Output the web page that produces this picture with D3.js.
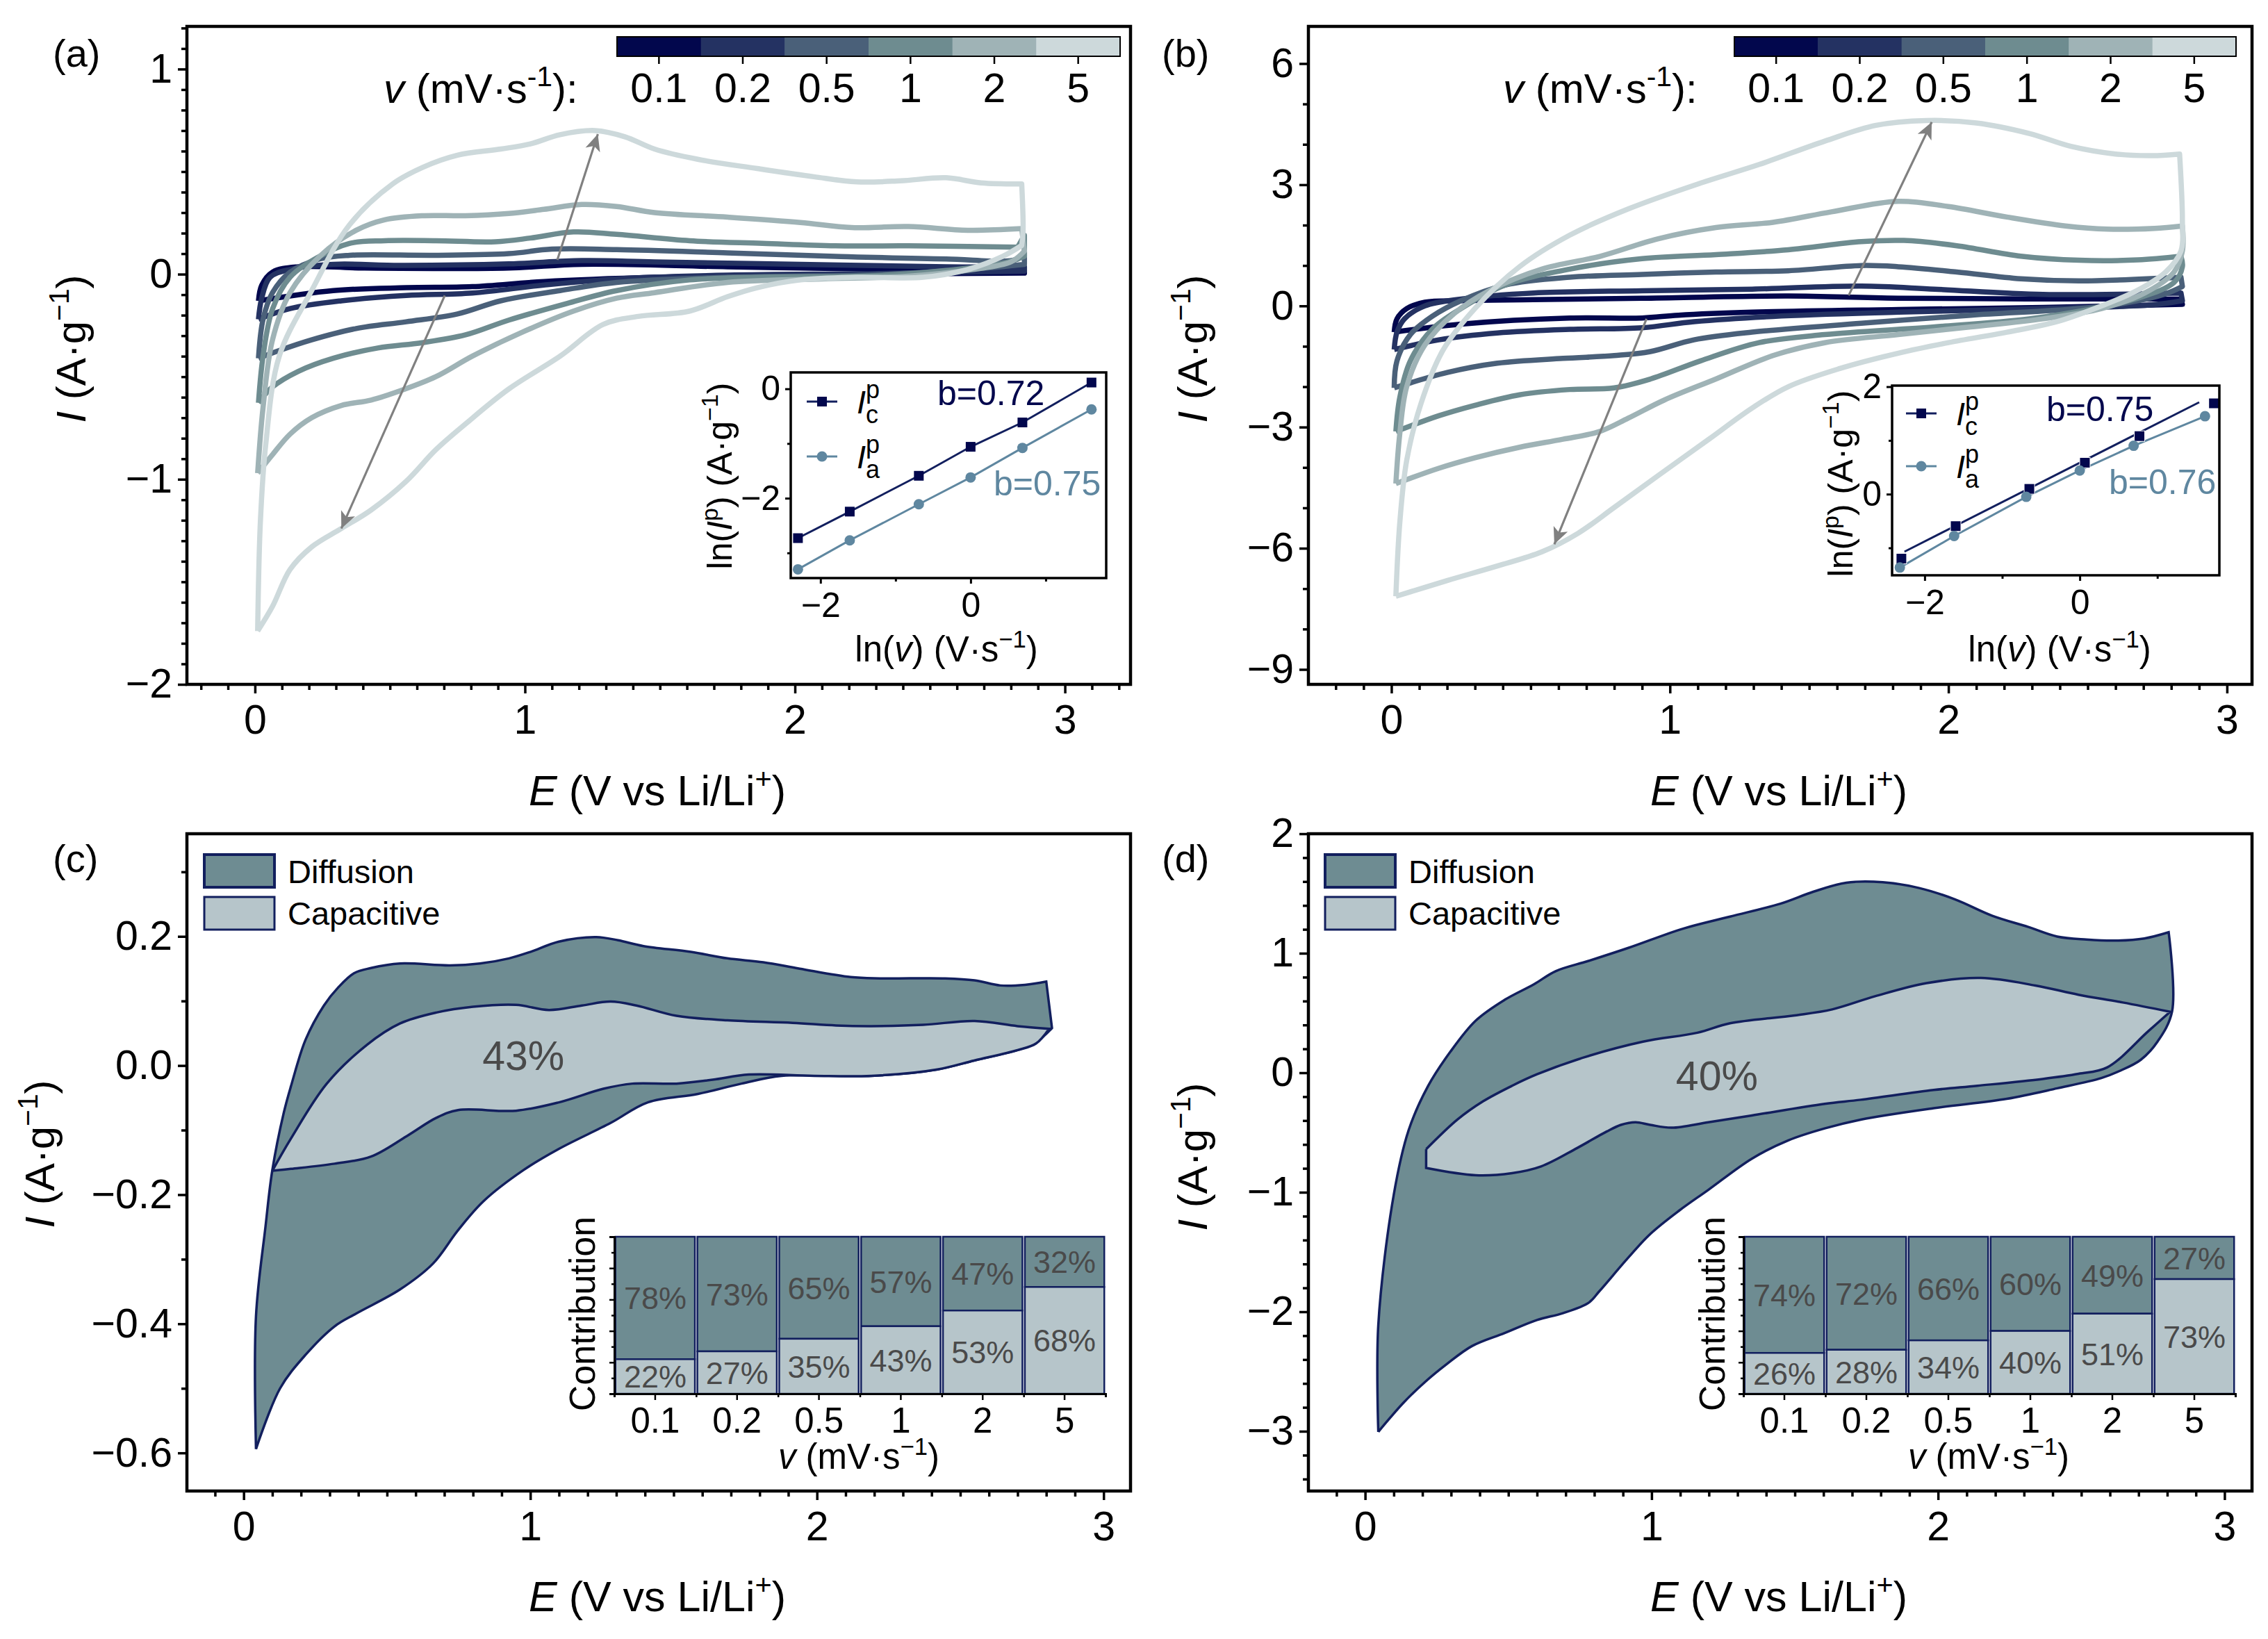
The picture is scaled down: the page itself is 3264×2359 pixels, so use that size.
<!DOCTYPE html>
<html>
<head>
<meta charset="utf-8">
<script src="https://cdn.jsdelivr.net/npm/d3@7"></script>
<style>
body { margin: 0; background: #fff; }
text { font-family: "Liberation Sans", Arial, sans-serif; fill: #000; }
</style>
</head>
<body>
<svg id="fig" width="3264" height="2359"></svg>
<script>
// scan rates shared by every panel
const scanRates = ["0.1", "0.2", "0.5", "1", "2", "5"];
const rateColors = ["#02074d", "#243262", "#4a6079", "#6e8c90", "#9fb3b6", "#cdd9db"];

// panel (a) CV loops, [E, I]
const cvA01 = [[.013,-.13],[.025,-.054],[.065,.01],[.16,.036],[.40,.03],[.94,.03],[1.21,.048],[1.75,.036],[2.29,.025],[2.85,.02],[2.85,.005],[2.02,-.003],[1.48,-.015],[1.07,-.036],[.805,-.061],[.56,-.066],[.29,-.08],[.013,-.13]];
const cvA02 = [[.013,-.22],[.025,-.117],[.056,-.015],[.13,.023],[.29,.048],[.536,.043],[.94,.05],[1.21,.066],[1.48,.06],[2.02,.048],[2.56,.036],[2.85,.036],[2.85,.015],[2.29,.003],[1.75,-.005],[1.34,-.023],[1.07,-.053],[.805,-.092],[.56,-.104],[.32,-.13],[.13,-.168],[.013,-.22]];
const cvA05 = [[.013,-.41],[.03,-.22],[.065,-.09],[.13,.01],[.24,.074],[.35,.092],[.67,.092],[.94,.10],[1.10,.122],[1.34,.12],[1.75,.104],[2.15,.087],[2.56,.074],[2.825,.074],[2.85,.112],[2.85,.048],[2.69,.028],[2.29,-.003],[1.75,-.015],[1.34,-.04],[1.13,-.08],[.91,-.13],[.75,-.194],[.56,-.232],[.375,-.265],[.21,-.32],[.09,-.372],[.013,-.41]];
const cvA1 = [[.013,-.627],[.03,-.40],[.065,-.17],[.13,-.015],[.24,.087],[.35,.15],[.48,.163],[.67,.163],[.89,.158],[1.02,.176],[1.18,.206],[1.34,.194],[1.61,.163],[1.88,.15],[2.15,.138],[2.42,.138],[2.825,.132],[2.85,.19],[2.85,.087],[2.77,.053],[2.56,.018],[2.29,-.008],[1.88,-.015],[1.61,-.028],[1.34,-.08],[1.155,-.143],[.94,-.224],[.78,-.296],[.62,-.334],[.455,-.36],[.29,-.41],[.16,-.474],[.065,-.55],[.013,-.627]];
const cvA2 = [[.01,-.97],[.03,-.65],[.065,-.32],[.13,-.09],[.24,.087],[.375,.214],[.48,.265],[.62,.285],[.78,.285],[.94,.296],[1.07,.316],[1.21,.34],[1.34,.33],[1.48,.30],[1.75,.278],[2.02,.252],[2.21,.227],[2.42,.232],[2.64,.214],[2.84,.222],[2.85,.112],[2.80,.06],[2.66,.023],[2.42,-.01],[2.10,-.023],[1.75,-.04],[1.48,-.09],[1.34,-.117],[1.18,-.18],[.99,-.283],[.805,-.40],[.67,-.50],[.55,-.563],[.43,-.614],[.32,-.64],[.21,-.70],[.13,-.78],[.065,-.88],[.01,-.97]];
const cvA5 = [[.01,-1.74],[.02,-1.21],[.04,-.83],[.09,-.40],[.21,-.08],[.35,.24],[.51,.44],[.62,.52],[.75,.58],[.91,.61],[1.02,.635],[1.13,.68],[1.26,.70],[1.37,.67],[1.48,.61],[1.64,.56],[1.86,.515],[2.07,.475],[2.23,.45],[2.39,.455],[2.56,.47],[2.69,.445],[2.84,.44],[2.845,.21],[2.84,.14],[2.77,.087],[2.64,.023],[2.475,-.015],[2.23,-.015],[2.02,-.028],[1.86,-.066],[1.75,-.11],[1.61,-.18],[1.42,-.206],[1.29,-.245],[1.13,-.40],[.94,-.56],[.78,-.73],[.67,-.856],[.56,-1.01],[.43,-1.15],[.32,-1.24],[.21,-1.33],[.13,-1.44],[.065,-1.62],[.01,-1.74]];

// panel (b) CV loops, [E, I]
const cvB01 = [[.01,-.65],[.02,-.32],[.055,-.065],[.12,.09],[.25,.13],[.51,.155],[.90,.19],[1.425,.245],[1.82,.19],[2.835,.17],[2.84,.04],[2.34,-.04],[1.82,-.09],[1.295,-.155],[1.03,-.23],[.90,-.30],[.64,-.30],[.25,-.45],[.01,-.65]];
const cvB02 = [[.01,-1.08],[.02,-.65],[.047,-.32],[.12,0],[.25,.17],[.51,.32],[.90,.375],[1.295,.415],[1.687,.49],[1.95,.415],[2.34,.285],[2.835,.32],[2.84,.13],[2.73,.026],[2.34,-.065],[1.82,-.155],[1.37,-.26],[1.086,-.39],[.90,-.54],[.64,-.58],[.38,-.67],[.17,-.84],[.01,-1.08]];
const cvB05 = [[.01,-2.03],[.02,-1.36],[.068,-.71],[.146,-.26],[.25,.13],[.41,.52],[.64,.71],[.90,.78],[1.165,.84],[1.425,.87],[1.687,1.0],[1.82,.97],[2.03,.84],[2.26,.67],[2.47,.62],[2.835,.71],[2.84,.48],[2.78,.30],[2.65,.09],[2.47,-.065],[2.08,-.23],[1.687,-.43],[1.295,-.65],[1.086,-.84],[.93,-1.13],[.80,-1.23],[.616,-1.30],[.38,-1.42],[.20,-1.65],[.01,-2.03]];
const cvB1 = [[.016,-3.11],[.03,-2.27],[.068,-1.36],[.146,-.58],[.25,-.065],[.41,.52],[.64,.91],[.90,1.17],[1.165,1.27],[1.425,1.39],[1.687,1.59],[1.84,1.62],[2.03,1.49],[2.26,1.23],[2.47,1.13],[2.68,1.14],[2.835,1.23],[2.84,.97],[2.81,.58],[2.68,.19],[2.52,-.065],[2.29,-.32],[1.95,-.52],[1.556,-.71],[1.32,-.91],[1.11,-1.36],[.93,-1.81],[.80,-2.03],[.64,-2.07],[.46,-2.2],[.30,-2.46],[.17,-2.72],[.016,-3.11]];
const cvB2 = [[.016,-4.40],[.03,-3.17],[.055,-2.0],[.12,-.97],[.225,-.19],[.355,.39],[.54,.91],[.75,1.23],[.956,1.66],[1.165,1.94],[1.37,2.07],[1.58,2.33],[1.82,2.59],[2.0,2.46],[2.21,2.2],[2.42,1.98],[2.57,1.9],[2.74,1.92],[2.84,1.98],[2.84,1.36],[2.81,.84],[2.705,.32],[2.55,-.065],[2.34,-.32],[2.08,-.52],[1.82,-.71],[1.556,-.91],[1.37,-1.23],[1.165,-1.81],[.98,-2.33],[.85,-2.78],[.747,-3.11],[.616,-3.3],[.46,-3.5],[.30,-3.76],[.17,-4.02],[.016,-4.40]];
const cvB5 = [[.016,-7.19],[.03,-5.38],[.055,-3.82],[.107,-2.4],[.185,-1.1],[.30,-.065],[.46,.97],[.64,1.75],[.85,2.4],[1.11,3.04],[1.32,3.5],[1.556,4.08],[1.74,4.47],[1.92,4.59],[2.10,4.53],[2.29,4.27],[2.44,3.95],[2.60,3.76],[2.73,3.72],[2.83,3.76],[2.84,2.14],[2.835,1.36],[2.78,.84],[2.68,.39],[2.55,0],[2.39,-.39],[2.21,-.65],[2.0,-.91],[1.82,-1.17],[1.61,-1.55],[1.425,-2.0],[1.295,-2.53],[1.14,-3.3],[.956,-4.21],[.80,-4.99],[.67,-5.63],[.54,-6.09],[.38,-6.44],[.20,-6.8],[.016,-7.19]];

// arrows on the CV panels, [tail, head]
const arrowsA = [[[1.12,.07],[1.27,.683]], [[.703,-.104],[.32,-1.24]]];
const arrowsB = [[[1.642,.26],[1.94,4.55]], [[.916,-.32],[.585,-5.9]]];

// b-value insets
const lnRateA = [-2.30,-1.61,-.69,0,.69,1.61];
const lnIcA = [-2.73,-2.245,-1.59,-1.06,-.615,.115];
const lnIaA = [-3.30,-2.77,-2.11,-1.62,-1.08,-.376];
const lnRateCB = [-2.30,-1.60,-.65,.066,.77,1.73];
const lnRateAB = [-2.32,-1.62,-.69,0,.695,1.615];
const lnIcB = [-1.2,-.595,.098,.585,1.08,1.69];
const lnIaB = [-1.366,-.78,-.05,.44,.90,1.45];
const fitIcB = [[-2.26,-1.07],[1.54,1.71]];

// panel (c), 1 mV/s separation
const totalC = [[.043,-.594],[.043,-.388],[.076,-.25],[.10,-.162],[.14,-.073],[.165,-.032],[.216,.04],[.28,.093],[.33,.121],[.385,.143],[.444,.151],[.545,.158],[.72,.155],[.824,.158],[.926,.166],[1.0,.176],[1.10,.192],[1.23,.199],[1.306,.194],[1.395,.185],[1.56,.176],[1.687,.166],[1.813,.16],[1.94,.15],[2.118,.137],[2.22,.135],[2.447,.135],[2.55,.132],[2.64,.124],[2.726,.125],[2.80,.13],[2.82,.058],[2.764,.036],[2.70,.024],[2.55,.008],[2.42,-.006],[2.19,-.016],[1.877,-.016],[1.737,-.028],[1.585,-.044],[1.41,-.057],[1.28,-.089],[1.10,-.129],[.976,-.162],[.837,-.21],[.748,-.255],[.66,-.307],[.545,-.347],[.393,-.384],[.317,-.404],[.216,-.448],[.127,-.50],[.043,-.594]];
const capC = [[.10,-.163],[.165,-.113],[.29,-.028],[.43,.032],[.545,.065],[.672,.082],[.80,.091],[.95,.094],[1.065,.086],[1.18,.093],[1.28,.099],[1.37,.093],[1.51,.077],[1.687,.07],[1.915,.066],[2.067,.062],[2.19,.061],[2.37,.063],[2.55,.069],[2.70,.061],[2.81,.057],[2.764,.034],[2.70,.024],[2.55,.008],[2.42,-.006],[2.19,-.016],[1.99,-.016],[1.763,-.014],[1.636,-.022],[1.51,-.028],[1.357,-.028],[1.255,-.036],[1.10,-.057],[.95,-.07],[.748,-.069],[.672,-.081],[.57,-.109],[.444,-.141],[.317,-.152],[.165,-.16],[.10,-.163]];
const diffShareC = [78,73,65,57,47,32];
const capShareC = [22,27,35,43,53,68];

// panel (d), 1 mV/s separation
const totalD = [[.046,-3.005],[.046,-2.11],[.10,-1.02],[.152,-.48],[.22,-.11],[.297,.174],[.386,.436],[.487,.61],[.589,.74],[.665,.85],[.78,.936],[.919,1.045],[1.11,1.206],[1.274,1.307],[1.45,1.415],[1.566,1.516],[1.68,1.59],[1.807,1.594],[1.934,1.546],[2.06,1.45],[2.188,1.315],[2.315,1.22],[2.416,1.14],[2.518,1.115],[2.62,1.106],[2.72,1.124],[2.805,1.176],[2.817,.514],[2.766,.26],[2.708,.109],[2.632,.013],[2.57,-.044],[2.416,-.13],[2.24,-.218],[1.985,-.296],[1.73,-.392],[1.604,-.466],[1.477,-.566],[1.35,-.719],[1.198,-.98],[1.096,-1.154],[.995,-1.35],[.919,-1.546],[.817,-1.83],[.78,-1.925],[.69,-2.012],[.60,-2.069],[.487,-2.178],[.373,-2.287],[.284,-2.44],[.208,-2.59],[.132,-2.766],[.046,-3.005]];
const capD = [[.213,-.64],[.322,-.392],[.411,-.24],[.513,-.109],[.60,-.013],[.766,.13],[.97,.26],[1.16,.335],[1.274,.414],[1.50,.48],[1.63,.53],[1.78,.64],[1.96,.75],[2.15,.793],[2.34,.73],[2.49,.653],[2.645,.588],[2.81,.51],[2.734,.348],[2.59,.044],[2.49,-.009],[2.365,-.052],[2.137,-.109],[1.985,-.144],[1.73,-.226],[1.604,-.26],[1.35,-.357],[1.198,-.414],[1.07,-.46],[.995,-.436],[.944,-.414],[.893,-.436],[.843,-.492],[.74,-.63],[.614,-.784],[.513,-.84],[.386,-.858],[.213,-.797],[.213,-.64]];
const diffShareD = [74,72,66,60,49,27];
const capShareD = [26,28,34,40,51,73];

const navy = "#121f5e", anodic = "#5f87a0", gray = "#808080", darkText = "#4a4a4a";
const diffFill = "#6e8c92", capFill = "#b6c5ca";

const svg = d3.select("#fig");

svg.append("defs").append("marker")
    .attr("id", "head")
    .attr("markerUnits", "userSpaceOnUse")
    .attr("markerWidth", 30).attr("markerHeight", 30)
    .attr("refX", 26).attr("refY", 15)
    .attr("orient", "auto")
    .append("path")
    .attr("d", "M26,15 L2,4 L8,15 L2,26 Z")
    .attr("fill", gray);

const line = d3.line()
    .x(d => d[0]).y(d => d[1])
    .curve(d3.curveCatmullRom.alpha(0.5));

// smooth path that keeps the sharp turns at the ends of a sweep
function smoothPath(pts) {
    const pieces = [];
    let cur = [pts[0]];
    for (let i = 1; i < pts.length; i++) {
        cur.push(pts[i]);
        if (i < pts.length - 1) {
            const a = Math.atan2(pts[i][1] - pts[i - 1][1], pts[i][0] - pts[i - 1][0]);
            const b = Math.atan2(pts[i + 1][1] - pts[i][1], pts[i + 1][0] - pts[i][0]);
            let turn = Math.abs(a - b);
            if (turn > Math.PI) turn = 2 * Math.PI - turn;
            if (turn > 0.9) { pieces.push(cur); cur = [pts[i]]; }
        }
    }
    pieces.push(cur);
    return pieces.map((p, k) => k ? line(p).replace("M", "L") : line(p)).join("");
}

// mixed italic / superscript text. parts are [string, kind]
function rich(sel, parts, size) {
    let prev = 0;
    parts.forEach(([s, kind]) => {
        const off = kind === "sup" ? -0.4 * size : 0;
        sel.append("tspan")
            .attr("dy", off - prev)
            .attr("font-size", kind === "sup" ? size * 0.68 : size)
            .attr("font-style", kind === "i" ? "italic" : "normal")
            .text(s);
        prev = off;
    });
    return sel;
}

function minors(lo, hi, step, major) {
    return d3.range(Math.round(lo / step), Math.round(hi / step) + 1)
        .map(k => +(k * step).toFixed(6))
        .filter(v => v >= lo && v <= hi && !major.includes(v));
}

// minor ticks carry no label, so drop their empty text nodes
const noText = a => a.selectAll("text").remove();

function axes(g, x, y, box, o) {
    const xAxis = g.append("g").attr("transform", `translate(0,${box.bottom})`);
    xAxis.append("g").call(d3.axisBottom(x).tickValues(o.xMajor).tickSize(o.major).tickPadding(o.padX).tickFormat(o.xFormat || d3.format("d")));
    xAxis.append("g").call(d3.axisBottom(x).tickValues(o.xMinor).tickSize(o.minor).tickFormat("")).call(noText);
    const yAxis = g.append("g").attr("transform", `translate(${box.left},0)`);
    yAxis.append("g").call(d3.axisLeft(y).tickValues(o.yMajor).tickSize(o.major).tickPadding(o.padY).tickFormat(o.yFormat || d3.format("d")));
    yAxis.append("g").call(d3.axisLeft(y).tickValues(o.yMinor).tickSize(o.minor).tickFormat("")).call(noText);
    g.selectAll(".domain").remove();
    g.selectAll(".tick line").attr("stroke", "#000").attr("stroke-width", o.tickWidth);
    g.selectAll(".tick text").attr("font-size", o.font).attr("font-family", "Liberation Sans").attr("fill", "#000");
    g.append("rect")
        .attr("x", box.left).attr("y", box.top)
        .attr("width", box.right - box.left).attr("height", box.bottom - box.top)
        .attr("fill", "none").attr("stroke", "#000").attr("stroke-width", o.frame);
}

function mainPanel(p) {
    const g = svg.append("g");
    const x = d3.scaleLinear().domain(p.xDomain).range([p.box.left, p.box.right]);
    const y = d3.scaleLinear().domain(p.yDomain).range([p.box.bottom, p.box.top]);
    g.append("text").attr("x", p.labelX).attr("y", p.labelY).attr("font-size", 56).text(p.label);
    const plot = g.append("g");
    axes(g, x, y, p.box, {
        xMajor: [0, 1, 2, 3], xMinor: minors(p.xDomain[0], p.xDomain[1], 0.1, [0, 1, 2, 3]),
        yMajor: p.yMajor, yMinor: p.yMinor, yFormat: p.yFormat,
        major: 13, minor: 8, padX: 16, padY: 8, tickWidth: 3.5, font: 59, frame: 4.5
    });
    g.append("text").attr("x", p.xTitleX).attr("y", p.xTitleY)
        .attr("text-anchor", "middle")
        .call(rich, [["E", "i"], [" (V vs Li/Li", "n"], ["+", "sup"], [")", "n"]], 61);
    g.append("text")
        .attr("transform", `translate(${p.yTitleX},${p.yTitleY}) rotate(-90)`)
        .attr("text-anchor", "middle")
        .call(rich, [["I", "i"], ["  (A·g", "n"], ["−1", "sup"], [")", "n"]], 60);
    return { g, plot, x, y };
}

function colorBar(g, left, right, titleX) {
    const band = d3.scaleBand().domain(scanRates).range([left, right]);
    g.append("g").selectAll("rect").data(scanRates).join("rect")
        .attr("x", d => band(d)).attr("y", 53)
        .attr("width", band.bandwidth() + 0.5).attr("height", 28)
        .attr("fill", (d, i) => rateColors[i]);
    g.append("rect").attr("x", left).attr("y", 53).attr("width", right - left).attr("height", 28)
        .attr("fill", "none").attr("stroke", "#000").attr("stroke-width", 2);
    const a = g.append("g").attr("transform", "translate(0,81)")
        .call(d3.axisBottom(band).tickSize(11).tickPadding(13));
    a.select(".domain").remove();
    a.selectAll(".tick line").attr("stroke", "#000").attr("stroke-width", 2.5);
    a.selectAll(".tick text").attr("font-size", 59).attr("font-family", "Liberation Sans").attr("fill", "#000");
    g.append("text").attr("x", titleX).attr("y", 148)
        .call(rich, [["v", "i"], [" (mV·s", "n"], ["-1", "sup"], ["):", "n"]], 60);
}

function cvPanel(p, loops, arrows, bar) {
    const { g, plot, x, y } = mainPanel(p);
    plot.selectAll("path").data(loops).join("path")
        .attr("d", d => smoothPath(d.map(([e, i]) => [x(e), y(i)])))
        .attr("fill", "none")
        .attr("stroke", (d, i) => rateColors[i])
        .attr("stroke-width", 7.5)
        .attr("stroke-linejoin", "round");
    plot.append("g").selectAll("line").data(arrows).join("line")
        .attr("x1", d => x(d[0][0])).attr("y1", d => y(d[0][1]))
        .attr("x2", d => x(d[1][0])).attr("y2", d => y(d[1][1]))
        .attr("stroke", gray).attr("stroke-width", 3.2)
        .attr("marker-end", "url(#head)");
    colorBar(g, bar.left, bar.right, bar.titleX);
}

function sepPanel(p, total, cap, bar, note) {
    const { g, plot, x, y } = mainPanel(p);
    const toPath = pts => smoothPath(pts.map(([e, i]) => [x(e), y(i)]));
    plot.append("path").attr("d", toPath(total)).attr("fill", diffFill).attr("stroke", navy).attr("stroke-width", 3.5);
    plot.append("path").attr("d", toPath(cap)).attr("fill", capFill).attr("stroke", navy).attr("stroke-width", 3.5);
    g.append("text").attr("x", x(note.x)).attr("y", y(note.y)).attr("dy", "0.36em")
        .attr("text-anchor", "middle").attr("font-size", 59).style("fill", darkText).text(note.text);
    // legend
    [["Diffusion", diffFill], ["Capacitive", capFill]].forEach(([name, fill], i) => {
        g.append("rect").attr("x", p.legendX).attr("y", 1230 + i * 61)
            .attr("width", 101).attr("height", 47)
            .attr("fill", fill).attr("stroke", navy).attr("stroke-width", i ? 3 : 4);
        g.append("text").attr("x", p.legendX + 120).attr("y", 1271 + i * 60)
            .attr("font-size", 47).text(name);
    });
    shareInset(g, bar);
}

function shareInset(g, b) {
    const xb = d3.scaleBand().domain(scanRates).range([b.left, b.right]).paddingInner(0.03).paddingOuter(0.015);
    const y = d3.scaleLinear().domain([0, 100]).range([b.bottom, b.top]);
    const rows = scanRates.map((r, i) => ({ r, cap: b.cap[i], diff: b.diff[i] }));
    const bars = g.append("g").selectAll("g").data(rows).join("g");
    bars.append("rect")
        .attr("x", d => xb(d.r)).attr("width", xb.bandwidth())
        .attr("y", d => y(100)).attr("height", d => y(d.cap) - y(100))
        .attr("fill", diffFill).attr("stroke", navy).attr("stroke-width", 2.5);
    bars.append("rect")
        .attr("x", d => xb(d.r)).attr("width", xb.bandwidth())
        .attr("y", d => y(d.cap)).attr("height", d => y(0) - y(d.cap))
        .attr("fill", capFill).attr("stroke", navy).attr("stroke-width", 2.5);
    const mid = d => xb(d.r) + xb.bandwidth() / 2;
    bars.append("text").attr("x", mid).attr("y", d => y(d.cap + d.diff / 2)).attr("dy", "0.36em")
        .attr("text-anchor", "middle").attr("font-size", 45).style("fill", darkText).text(d => d.diff + "%");
    bars.append("text").attr("x", mid).attr("y", d => y(d.cap / 2)).attr("dy", "0.36em")
        .attr("text-anchor", "middle").attr("font-size", 45).style("fill", darkText).text(d => d.cap + "%");

    const edge = d3.scaleLinear().domain([0, 6]).range([b.left, b.right]);
    const ax = g.append("g").attr("transform", `translate(0,${b.bottom})`);
    ax.append("g").call(d3.axisBottom(xb).tickSize(9).tickPadding(11).tickSizeOuter(0));
    ax.append("g").call(d3.axisBottom(edge).tickValues(d3.range(7)).tickSize(5).tickFormat("")).call(noText);
    const ay = g.append("g").attr("transform", `translate(${b.left},0)`);
    ay.append("g").call(d3.axisLeft(y).tickValues([0, 20, 40, 60, 80, 100]).tickSize(7).tickFormat("")).call(noText);
    ay.append("g").call(d3.axisLeft(y).tickValues([10, 30, 50, 70, 90]).tickSize(4).tickFormat("")).call(noText);
    ax.selectAll(".domain").attr("stroke", "#000").attr("stroke-width", 3);
    ay.selectAll(".domain").attr("stroke", "#000").attr("stroke-width", 3);
    ax.selectAll(".tick line").attr("stroke", "#000").attr("stroke-width", 2.5);
    ay.selectAll(".tick line").attr("stroke", "#000").attr("stroke-width", 2.5);
    ax.selectAll(".tick text").attr("font-size", 51).attr("font-family", "Liberation Sans").attr("fill", "#000");
    g.append("text").attr("x", b.titleX).attr("y", 2114).attr("text-anchor", "middle")
        .call(rich, [["v", "i"], [" (mV·s", "n"], ["−1", "sup"], [")", "n"]], 51);
    g.append("text").attr("transform", `translate(${b.ylabelX},1891) rotate(-90)`)
        .attr("text-anchor", "middle").attr("font-size", 52).text("Contribution");
}

function bInset(p) {
    const g = svg.append("g");
    const x = d3.scaleLinear().domain(p.xDomain).range([p.box.left, p.box.right]);
    const y = d3.scaleLinear().domain(p.yDomain).range([p.box.bottom, p.box.top]);
    const lineXY = d3.line().x(d => x(d[0])).y(d => y(d[1]));
    const ptsC = p.rateC.map((r, i) => [r, p.ic[i]]);
    const ptsA = p.rateA.map((r, i) => [r, p.ia[i]]);
    g.append("path").attr("d", lineXY(p.fitC || ptsC)).attr("fill", "none").attr("stroke", navy).attr("stroke-width", 3);
    g.append("path").attr("d", lineXY(ptsA)).attr("fill", "none").attr("stroke", anodic).attr("stroke-width", 3);
    g.append("g").selectAll("rect").data(ptsC).join("rect")
        .attr("x", d => x(d[0]) - 7).attr("y", d => y(d[1]) - 7)
        .attr("width", 14).attr("height", 14).attr("fill", "#02074d")
        .attr("stroke", p.fitC ? "#fff" : "none").attr("stroke-width", 2).attr("paint-order", "stroke");
    g.append("g").selectAll("circle").data(ptsA).join("circle")
        .attr("cx", d => x(d[0])).attr("cy", d => y(d[1])).attr("r", 7.5).attr("fill", anodic);
    axes(g, x, y, p.box, {
        xMajor: [-2, 0], xMinor: [-1, 1], yMajor: p.yMajor, yMinor: p.yMinor,
        major: 8, minor: 5, padX: 12, padY: 7, tickWidth: 3, font: 50, frame: 3.5
    });

    // legend for the two peak series
    const lx = p.legendX;
    [["c", p.legendY[0], navy], ["a", p.legendY[1], anodic]].forEach(([sub, ly, col], i) => {
        g.append("line").attr("x1", lx - 22).attr("x2", lx + 22).attr("y1", ly).attr("y2", ly)
            .attr("stroke", col).attr("stroke-width", 3);
        if (i === 0) {
            g.append("rect").attr("x", lx - 7).attr("y", ly - 7).attr("width", 14).attr("height", 14).attr("fill", "#02074d");
        } else {
            g.append("circle").attr("cx", lx).attr("cy", ly).attr("r", 7.5).attr("fill", anodic);
        }
        g.append("text").attr("x", lx + 50).attr("y", ly + 17).attr("font-size", 47).attr("font-style", "italic").text("I");
        g.append("text").attr("x", lx + 63).attr("y", ly - 5).attr("font-size", 36).text("p");
        g.append("text").attr("x", lx + 63).attr("y", ly + 31).attr("font-size", 36).text(sub);
    });
    g.append("text").attr("x", p.bC[0]).attr("y", p.bC[1]).attr("font-size", 50).style("fill", "#02074d").text(p.bC[2]);
    g.append("text").attr("x", p.bA[0]).attr("y", p.bA[1]).attr("font-size", 50).style("fill", anodic).text(p.bA[2]);
    g.append("text").attr("x", p.xTitleX).attr("y", 952).attr("text-anchor", "middle")
        .call(rich, [["ln(", "n"], ["v", "i"], [") (V·s", "n"], ["−1", "sup"], [")", "n"]], 51);
    g.append("text").attr("transform", `translate(${p.yTitleX},${p.yTitleY}) rotate(-90)`)
        .attr("text-anchor", "middle")
        .call(rich, [["ln(", "n"], ["I", "i"], ["p", "sup"], [")  (A·g", "n"], ["−1", "sup"], [")", "n"]], 50);
}

const boxA = { left: 269, right: 1627, top: 38, bottom: 985 };
const boxB = { left: 1883, right: 3241, top: 38, bottom: 985 };
const boxC = { left: 269, right: 1627, top: 1200, bottom: 2146 };
const boxD = { left: 1883, right: 3241, top: 1200, bottom: 2146 };

cvPanel({
    label: "(a)", labelX: 76, labelY: 96, box: boxA,
    xDomain: [-0.252, 3.243], yDomain: [-2, 1.208],
    yMajor: [-2, -1, 0, 1], yMinor: minors(-2, 1.2, 0.1, [-2, -1, 0, 1]),
    xTitleX: 946, xTitleY: 1159, yTitleX: 123, yTitleY: 502
}, [cvA01, cvA02, cvA05, cvA1, cvA2, cvA5], arrowsA, { left: 888, right: 1612, titleX: 552 });

cvPanel({
    label: "(b)", labelX: 1672, labelY: 96, box: boxB,
    xDomain: [-0.298, 3.09], yDomain: [-9.37, 6.92],
    yMajor: [-9, -6, -3, 0, 3, 6], yMinor: [-8, -7, -5, -4, -2, -1, 1, 2, 4, 5],
    xTitleX: 2560, xTitleY: 1159, yTitleX: 1737, yTitleY: 502
}, [cvB01, cvB02, cvB05, cvB1, cvB2, cvB5], arrowsB, { left: 2496, right: 3218, titleX: 2163 });

bInset({
    box: { left: 1138, right: 1592, top: 536, bottom: 832 },
    xDomain: [-2.396, 1.806], yDomain: [-3.46, 0.30],
    yMajor: [-2, 0], yMinor: [-3, -1],
    rateC: lnRateA, rateA: lnRateA, ic: lnIcA, ia: lnIaA,
    legendX: 1183, legendY: [578, 657],
    bC: [1349, 583, "b=0.72"], bA: [1430, 713, "b=0.75"],
    xTitleX: 1362, yTitleX: 1053, yTitleY: 685
});

bInset({
    box: { left: 2723, right: 3194, top: 555, bottom: 828 },
    xDomain: [-2.42, 1.80], yDomain: [-1.51, 2.02],
    yMajor: [0, 2], yMinor: [-1, 1],
    rateC: lnRateCB, rateA: lnRateAB, ic: lnIcB, ia: lnIaB, fitC: fitIcB,
    legendX: 2765, legendY: [595, 671],
    bC: [2945, 606, "b=0.75"], bA: [3035, 711, "b=0.76"],
    xTitleX: 2964, yTitleX: 2666, yTitleY: 696
});

sepPanel({
    label: "(c)", labelX: 76, labelY: 1255, box: boxC,
    xDomain: [-0.198, 3.094], yDomain: [-0.659, 0.359],
    yMajor: [-0.6, -0.4, -0.2, 0, 0.2], yMinor: [-0.5, -0.3, -0.1, 0.1, 0.3], yFormat: d3.format(".1f"),
    xTitleX: 946, xTitleY: 2319, yTitleX: 78, yTitleY: 1661, legendX: 294
}, totalC, capC, {
    left: 884, right: 1591, top: 1780, bottom: 2006, cap: capShareC, diff: diffShareC, titleX: 1236, ylabelX: 856
}, { x: 0.976, y: 0.016, text: "43%" });

sepPanel({
    label: "(d)", labelX: 1672, labelY: 1255, box: boxD,
    xDomain: [-0.198, 3.096], yDomain: [-3.5, 2],
    yMajor: [-3, -2, -1, 0, 1, 2], yMinor: minors(-3.4, 1.8, 0.2, [-3, -2, -1, 0, 1, 2]),
    xTitleX: 2560, xTitleY: 2319, yTitleX: 1737, yTitleY: 1665, legendX: 1907
}, totalD, capD, {
    left: 2509, right: 3217, top: 1780, bottom: 2006, cap: capShareD, diff: diffShareD, titleX: 2862, ylabelX: 2482
}, { x: 1.228, y: -0.02, text: "40%" });
</script>
</body>
</html>
